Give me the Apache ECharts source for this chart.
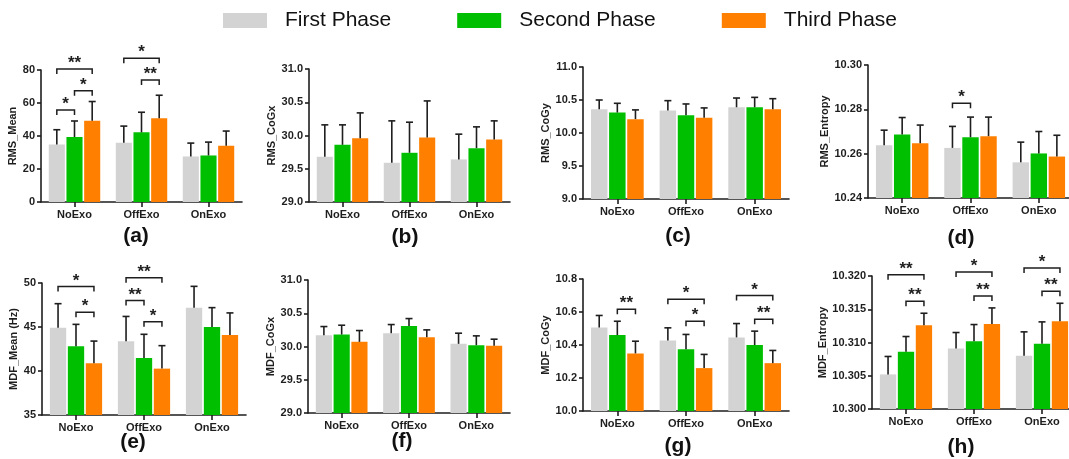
<!DOCTYPE html>
<html><head><meta charset="utf-8">
<script src="https://cdn.jsdelivr.net/npm/echarts@6/dist/echarts.min.js"></script>
<style>html,body{margin:0;padding:0;background:#fff}#c{width:1069px;height:459px}</style>
</head><body><div id="c"></div>
<script>
const categories = ['NoExo', 'OffExo', 'OnExo'];
const phases = ['First Phase', 'Second Phase', 'Third Phase'];
const phaseColors = ['#d3d3d3', '#00bf00', '#ff8000'];

// each value array: rows = phases (First, Second, Third), columns = categories
// (a) RMS_Mean
const rmsMean = [[34.9, 35.9, 27.6], [39.4, 42.2, 28.2], [49.3, 50.7, 34.1]];
const rmsMeanSD = [[8.9, 10.1, 8.1], [9.7, 12.2, 8.1], [11.6, 14.0, 8.9]];
const rmsMeanSig = [[0, 0, 1, 55.7, 1], [0, 1, 2, 67.4, 1], [0, 0, 2, 80.6, 2], [1, 0, 2, 87.1, 1], [1, 1, 2, 73.9, 2]];
// (b) RMS_CoGx
const rmsCoGx = [[29.68, 29.59, 29.64], [29.86, 29.74, 29.81], [29.96, 29.97, 29.94]];
const rmsCoGxSD = [[0.48, 0.63, 0.38], [0.30, 0.46, 0.32], [0.38, 0.55, 0.28]];
const rmsCoGxSig = [];
// (c) RMS_CoGy
const rmsCoGy = [[10.36, 10.34, 10.39], [10.31, 10.27, 10.39], [10.21, 10.23, 10.36]];
const rmsCoGySD = [[0.14, 0.15, 0.14], [0.14, 0.17, 0.15], [0.14, 0.15, 0.16]];
const rmsCoGySig = [];
// (d) RMS_Entropy
const rmsEntropy = [[10.2638, 10.2626, 10.2561], [10.2686, 10.2674, 10.2601], [10.2647, 10.2679, 10.2587]];
const rmsEntropySD = [[0.0068, 0.0097, 0.0091], [0.0077, 0.0091, 0.0099], [0.0082, 0.0086, 0.0096]];
const rmsEntropySig = [[1, 0, 1, 10.2828, 1]];
// (e) MDF_Mean (Hz)
const mdfMean = [[44.92, 43.37, 47.2], [42.8, 41.48, 45.0], [40.87, 40.27, 44.09]];
const mdfMeanSD = [[2.73, 2.83, 2.42], [2.5, 2.69, 2.2], [2.53, 2.61, 2.51]];
const mdfMeanSig = [[0, 0, 2, 49.6, 1], [0, 1, 2, 46.67, 1], [1, 0, 2, 50.6, 2], [1, 0, 1, 48.0, 2], [1, 1, 2, 45.6, 1]];
// (f) MDF_CoGx
const mdfCoGx = [[30.17, 30.20, 30.04], [30.18, 30.31, 30.02], [30.07, 30.14, 30.01]];
const mdfCoGxSD = [[0.13, 0.13, 0.16], [0.14, 0.11, 0.14], [0.17, 0.11, 0.10]];
const mdfCoGxSig = [];
// (g) MDF_CoGy
const mdfCoGy = [[10.506, 10.427, 10.446], [10.46, 10.375, 10.40], [10.349, 10.26, 10.29]];
const mdfCoGySD = [[0.073, 0.077, 0.084], [0.084, 0.089, 0.084], [0.074, 0.083, 0.077]];
const mdfCoGySig = [[0, 1, 2, 10.617, 2], [1, 0, 2, 10.677, 1], [1, 1, 2, 10.544, 1], [2, 0, 2, 10.70, 1], [2, 1, 2, 10.556, 2]];
// (h) MDF_Entropy
const mdfEntropy = [[10.3052, 10.3091, 10.3080], [10.3086, 10.3102, 10.3098], [10.3126, 10.3128, 10.3132]];
const mdfEntropySD = [[0.0027, 0.0024, 0.0036], [0.0023, 0.0025, 0.0033], [0.0018, 0.0024, 0.0027]];
const mdfEntropySig = [[0, 0, 2, 10.3202, 2], [0, 1, 2, 10.3162, 2], [1, 0, 2, 10.3206, 1], [1, 1, 2, 10.317, 2], [2, 0, 2, 10.3212, 1], [2, 1, 2, 10.3177, 2]];

// axis names, tick ranges, panel labels
const axisNames = ['RMS_Mean', 'RMS_CoGx', 'RMS_CoGy', 'RMS_Entropy', 'MDF_Mean (Hz)', 'MDF_CoGx', 'MDF_CoGy', 'MDF_Entropy'];
const yMins = [0, 29, 9, 10.24, 35, 29, 10.0, 10.300];
const yMaxs = [80, 31, 11, 10.30, 50, 31, 10.8, 10.320];
const yIntervals = [20, 0.5, 0.5, 0.02, 5, 0.5, 0.2, 0.005];
const yDecimals = [0, 1, 1, 2, 0, 1, 1, 3];
const panelLabels = ['(a)', '(b)', '(c)', '(d)', '(e)', '(f)', '(g)', '(h)'];

const panelMeans = [rmsMean, rmsCoGx, rmsCoGy, rmsEntropy, mdfMean, mdfCoGx, mdfCoGy, mdfEntropy];
const panelSDs = [rmsMeanSD, rmsCoGxSD, rmsCoGySD, rmsEntropySD, mdfMeanSD, mdfCoGxSD, mdfCoGySD, mdfEntropySD];
const panelSigs = [rmsMeanSig, rmsCoGxSig, rmsCoGySig, rmsEntropySig, mdfMeanSig, mdfCoGxSig, mdfCoGySig, mdfEntropySig];

// layout (pixels)
const grids = [
  {left: 41, top: 70, width: 201, height: 132},
  {left: 309, top: 69, width: 201, height: 133},
  {left: 583, top: 67, width: 206, height: 132},
  {left: 868, top: 65, width: 205, height: 133},
  {left: 42, top: 283, width: 204, height: 132},
  {left: 308, top: 280, width: 202, height: 133},
  {left: 583, top: 279, width: 206, height: 132},
  {left: 872, top: 276, width: 204, height: 133}
];
const nameGaps = [22, 31, 29, 35, 23, 30, 29, 39];
const labelPos = [[136, 236], [405, 237], [678, 236], [961, 238], [133, 442], [402, 441], [678, 446], [961, 447]];

const FONT = '"Liberation Sans", Arial, Helvetica, sans-serif';
const INK = '#1e1e1e';
const BAR_W = 0.24, BAR_GAP = 0.1;

function barOffset(api, phase) {
  const band = api.size([1, 0])[0];
  const w = band * BAR_W;
  return (phase - 1) * (w + w * BAR_GAP);
}
function renderErr(params, api) {
  const cat = api.value(0), ph = api.value(1), m = api.value(2), sd = api.value(3);
  const base = api.coord([cat, m]);
  const top = api.coord([cat, m + sd]);
  const x = base[0] + barOffset(api, ph);
  const hw = 3.5;
  return {type: 'group', children: [
    {type: 'line', shape: {x1: x, y1: base[1], x2: x, y2: top[1]}, style: {stroke: INK, lineWidth: 1.6}},
    {type: 'line', shape: {x1: x - hw, y1: top[1], x2: x + hw, y2: top[1]}, style: {stroke: INK, lineWidth: 1.6}}
  ]};
}
function renderSig(params, api) {
  const cat = api.value(0), p1 = api.value(1), p2 = api.value(2), y = api.value(3), n = api.value(4);
  const c = api.coord([cat, y]);
  const x1 = c[0] + barOffset(api, p1), x2 = c[0] + barOffset(api, p2);
  const leg = 5;
  return {type: 'group', children: [
    {type: 'polyline', shape: {points: [[x1, c[1] + leg], [x1, c[1]], [x2, c[1]], [x2, c[1] + leg]]},
     style: {stroke: INK, lineWidth: 1.5, fill: null}},
    {type: 'text', x: (x1 + x2) / 2, y: c[1] + 3,
     style: {text: '*'.repeat(n), align: 'center', verticalAlign: 'bottom', font: 'bold 17px ' + FONT, fill: INK}}
  ]};
}

const option = {
  animation: false,
  backgroundColor: '#fff',
  legend: {
    left: 218, top: 5, itemWidth: 44, itemHeight: 15, itemGap: 66,
    icon: 'rect', data: phases,
    textStyle: {fontSize: 21, fontFamily: FONT, color: '#111', padding: [0, 0, 0, 13]}
  },
  grid: grids.map(g => Object.assign({containLabel: false, outerBoundsMode: 'none'}, g)),
  xAxis: grids.map((g, i) => ({
    type: 'category', gridIndex: i, data: categories,
    axisLine: {show: true, lineStyle: {color: INK, width: 1.6}},
    axisTick: {show: true, alignWithLabel: true, length: 5, lineStyle: {color: INK, width: 1.6}},
    axisLabel: {margin: 7, fontSize: 11, fontWeight: 'bold', fontFamily: FONT, color: INK},
    splitLine: {show: false}
  })),
  yAxis: grids.map((g, i) => ({
    type: 'value', gridIndex: i, min: yMins[i], max: yMaxs[i], interval: yIntervals[i],
    name: axisNames[i], nameLocation: 'middle', nameGap: nameGaps[i], nameRotate: 90,
    nameTextStyle: {fontSize: 11, fontWeight: 'bold', fontFamily: FONT, color: INK},
    axisLine: {show: true, lineStyle: {color: INK, width: 1.6}},
    axisTick: {show: true, length: 4, lineStyle: {color: INK, width: 1.6}},
    axisLabel: {margin: 6, fontSize: 11, fontWeight: 'bold', fontFamily: FONT, color: INK,
      formatter: v => v.toFixed(yDecimals[i])},
    splitLine: {show: false}
  })),
  graphic: labelPos.map((p, i) => ({
    type: 'text', x: p[0], y: p[1],
    style: {text: panelLabels[i], align: 'center', verticalAlign: 'middle', font: 'bold 21px ' + FONT, fill: '#111'}
  })),
  series: []
};

panelMeans.forEach((means, i) => {
  means.forEach((vals, ph) => {
    option.series.push({
      type: 'bar', name: phases[ph], xAxisIndex: i, yAxisIndex: i,
      data: vals, barWidth: (BAR_W * 100) + '%', barGap: (BAR_GAP * 100) + '%',
      itemStyle: {color: phaseColors[ph]}, clip: true
    });
  });
  const errData = [];
  means.forEach((vals, ph) => vals.forEach((m, c) => errData.push([c, ph, m, panelSDs[i][ph][c]])));
  option.series.push({
    type: 'custom', xAxisIndex: i, yAxisIndex: i, renderItem: renderErr, clip: false,
    dimensions: ['cat', 'phase', 'mean', 'sd'], encode: {x: 0, y: 2}, data: errData, z: 3
  });
  if (panelSigs[i].length) {
    option.series.push({
      type: 'custom', xAxisIndex: i, yAxisIndex: i, renderItem: renderSig, clip: false,
      dimensions: ['cat', 'p1', 'p2', 'y', 'n'], encode: {x: 0, y: 3}, data: panelSigs[i], z: 4
    });
  }
});

const chart = echarts.init(document.getElementById('c'), null, {renderer: 'canvas'});
chart.setOption(option);
</script>
</body></html>
